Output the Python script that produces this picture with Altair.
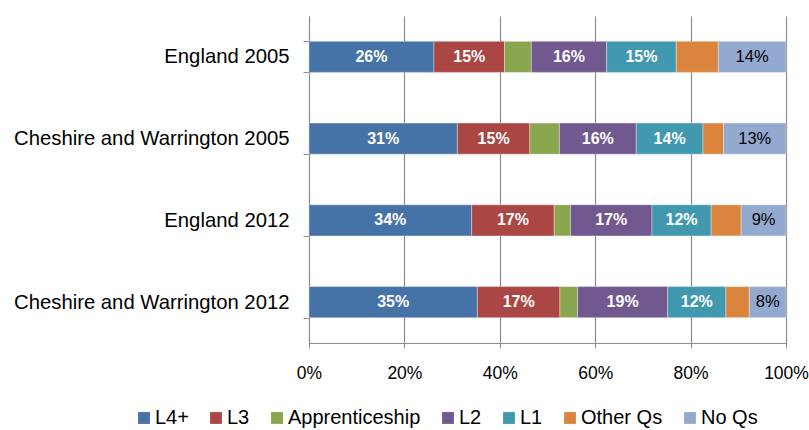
import altair as alt
import pandas as pd

areas = ["England 2005", "Cheshire and Warrington 2005", "England 2012", "Cheshire and Warrington 2012"]
levels = ["L4+", "L3", "Apprenticeship", "L2", "L1", "Other Qs", "No Qs"]
colors = ["#4572A7", "#AA4643", "#89A54E", "#71588F", "#4198AF", "#DB843D", "#93A9CF"]

england_2005 = [26.2, 14.8, 5.6, 15.8, 14.6, 8.8, 14.2]
cw_2005 = [31.1, 15.2, 6.2, 16.1, 14.0, 4.3, 13.1]
england_2012 = [34.1, 17.3, 3.4, 17.1, 12.4, 6.3, 9.4]
cw_2012 = [35.3, 17.3, 3.7, 18.9, 12.2, 4.9, 7.7]

series = [england_2005, cw_2005, england_2012, cw_2012]
rows = []
for a, vals in zip(areas, series):
    for i, (lv, v) in enumerate(zip(levels, vals)):
        rows.append({"area": a, "level": lv, "idx": i, "value": v})
df = pd.DataFrame(rows)

font = "Liberation Sans"

y_enc = alt.Y("area:N", sort=areas, title=None,
              scale=alt.Scale(paddingInner=0.62, paddingOuter=0.31),
              axis=alt.Axis(labelFontSize=20.3, labelColor="#000000", labelFont=font,
                            tickBand="extent", tickSize=6, tickColor="#8c8c8c",
                            domainColor="#8c8c8c", labelPadding=14, grid=False,
                            labelLimit=400))

base = alt.Chart(df).transform_stack(
    stack="value", as_=["x0", "x1"], groupby=["area"],
    sort=[alt.SortField("idx", order="ascending")]
).transform_calculate(mid="(datum.x0 + datum.x1) / 2",
                      lab="format(datum.value / 100, '.0%')")

bars = base.mark_bar(stroke="#ffffff", strokeWidth=0.6, strokeOpacity=0.6).encode(
    x=alt.X("x0:Q", scale=alt.Scale(domain=[0, 100]), title=None,
            axis=alt.Axis(values=[0, 20, 40, 60, 80, 100], labelExpr="datum.value + '%'",
                          labelFontSize=17.5, labelColor="#000000", labelFont=font,
                          labelFlush=False, labelOverlap=False,
                          tickSize=5, tickColor="#8c8c8c", domainColor="#8c8c8c",
                          gridColor="#8c8c8c", gridWidth=1.2, labelPadding=16)),
    x2="x1:Q",
    y=y_enc,
    color=alt.Color("level:N", scale=alt.Scale(domain=levels, range=colors),
                    legend=alt.Legend(title=None, orient="none", direction="horizontal",
                                      legendX=-175, legendY=392, columns=7,
                                      symbolType="square", symbolSize=140,
                                      symbolStrokeWidth=0, labelFontSize=20,
                                      labelFont=font, labelColor="#000000",
                                      columnPadding=17, labelOffset=1)),
)

white_labels = base.transform_filter(
    "datum.level != 'Apprenticeship' && datum.level != 'Other Qs' && datum.level != 'No Qs'"
).mark_text(font=font, fontSize=16, fontWeight="bold", color="#ffffff").encode(
    x="mid:Q", y=alt.Y("area:N", sort=areas), text="lab:N")

black_labels = base.transform_filter("datum.level == 'No Qs'").mark_text(
    font=font, fontSize=16.5, color="#000000").encode(
    x="mid:Q", y=alt.Y("area:N", sort=areas), text="lab:N")

chart = alt.layer(bars, white_labels, black_labels).properties(
    width=477, height=327,
    autosize=alt.AutoSizeParams(type="none"),
    padding={"left": 309, "top": 16, "right": 23, "bottom": 87},
).configure_view(stroke=None).configure_axis(gridColor="#8c8c8c")

chart.save("out.html", embed_options={"renderer": "svg", "actions": False})
